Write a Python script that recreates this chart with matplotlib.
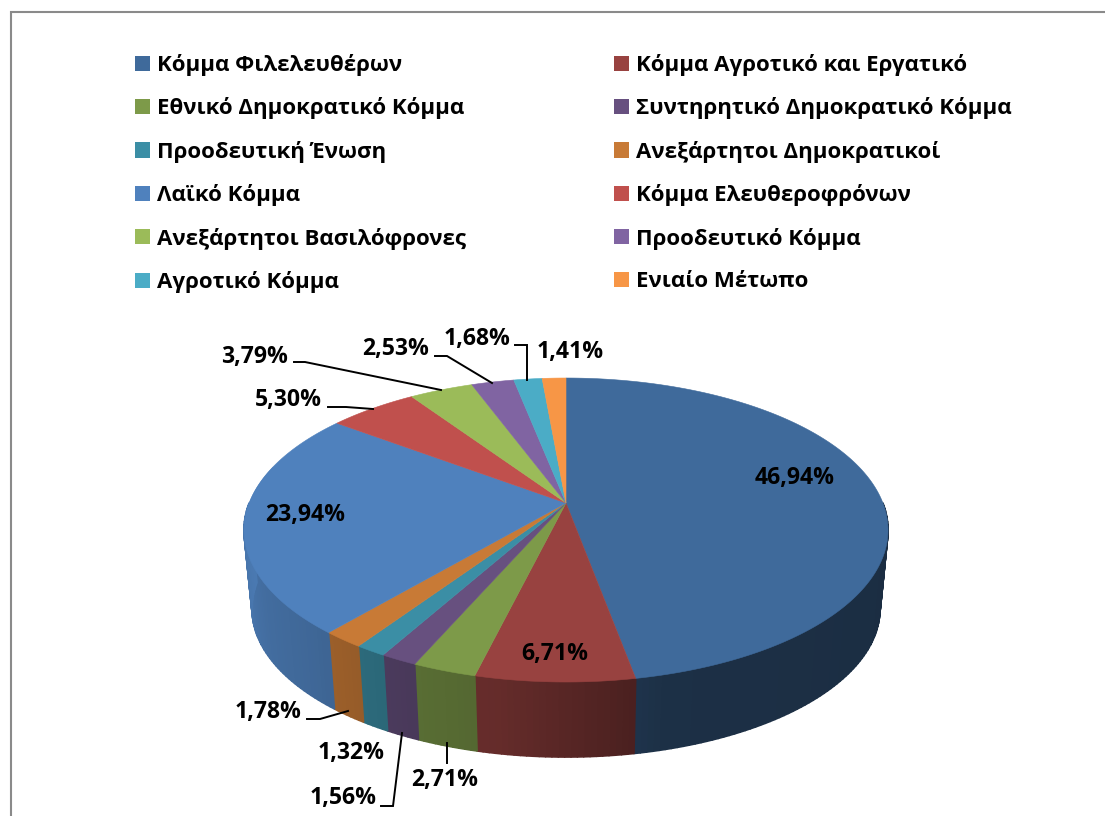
#!/usr/bin/env python3
import numpy as np
import matplotlib
matplotlib.use("Agg")
import matplotlib.pyplot as plt
from matplotlib.collections import PolyCollection
from matplotlib.patches import Patch

# ---------------------- data ----------------------
parties = ["Κόμμα Φιλελευθέρων", "Κόμμα Αγροτικό και Εργατικό",
           "Εθνικό Δημοκρατικό Κόμμα", "Συντηρητικό Δημοκρατικό Κόμμα",
           "Προοδευτική Ένωση", "Ανεξάρτητοι Δημοκρατικοί",
           "Λαϊκό Κόμμα", "Κόμμα Ελευθεροφρόνων",
           "Ανεξάρτητοι Βασιλόφρονες", "Προοδευτικό Κόμμα",
           "Αγροτικό Κόμμα", "Ενιαίο Μέτωπο"]
shares = [46.94, 6.71, 2.71, 1.56, 1.32, 1.78, 23.94, 5.30, 3.79, 2.53, 1.68, 1.41]
colors = ["#3F6A9B", "#984240", "#7D9A49", "#67507F", "#3B8EA5", "#C87A36",
          "#4F81BD", "#C0504D", "#9BBB59", "#8064A2", "#4BACC6", "#F79646"]

# ---------------------- layout (pixels) ----------------------
W, H = 1105, 816
CX = 566
APEX_TOP = 503      # where the slices meet on the top face
A, B, K = 316.9, 147.2, 0.1777   # perspective ellipse
DEPTH = 79.5
BOTTOM_SCALE = 0.975

label_pos = [(795, 478), (555, 654), (445, 780), (343, 798), (351, 753), (268, 712),
             (305, 515), (288, 400), (254, 357), (396, 349), (477, 339), (570, 352)]
leaders = [None, None,
           [(447, 743), (447, 763)],
           [(381, 806), (393, 806), (402, 733)],
           None,
           [(307, 719), (320, 719), (348, 711)],
           None,
           [(328, 407), (346, 407), (373, 409)],
           [(294, 362), (305, 362), (441, 390)],
           [(435, 356), (447, 356), (492, 383)],
           [(515, 345), (527, 345), (527, 380)],
           None]

# rim shading against angle (clockwise from the top of the pie)
shade_angle = [90, 165, 190, 210, 225, 240, 255, 270]
shade_value = [0.42, 0.45, 0.66, 0.73, 0.80, 0.84, 0.90, 0.94]


def project(theta, scale=1.0, y0=APEX_TOP):
    """Circle point at angle theta (degrees, clockwise from top) to pixels."""
    t = np.radians(theta)
    x, y = np.sin(t), np.cos(t)
    den = 1 + K * y
    return CX + scale * A * x / den, y0 - scale * B * y / den


def shaded(color, f):
    rgb = np.array(matplotlib.colors.to_rgb(color))
    return tuple(rgb * f)


fig = plt.figure(figsize=(W / 100, H / 100), dpi=100)
ax = fig.add_axes([0, 0, 1, 1])
ax.set_xlim(0, W)
ax.set_ylim(H, 0)
ax.axis("off")
plt.rcParams["font.family"] = ["Open Sans", "DejaVu Sans"]

# chart frame, the right and bottom sides are cut off in the picture
ax.plot([11, 11, W], [H, 12, 12], color="#8A8A8A", lw=1.5, solid_joinstyle="miter")

edges = np.concatenate([[0], np.cumsum(shares)]) / sum(shares) * 360

# silhouette pieces at the two sides, where the rim meets its widest point
for side, color, f in ((np.linspace(90, 115, 30), colors[0], 0.42),
                       (np.linspace(245, 285, 40), colors[6], 0.94)):
    xt, yt = project(side)
    xb, yb = project(side, BOTTOM_SCALE, APEX_TOP + DEPTH)
    ax.fill(np.r_[xt, xb[::-1]], np.r_[yt, yb[::-1]], color=shaded(color, f), lw=0, zorder=1)

# rim, only the front part can be seen
for i, color in enumerate(colors):
    a0, a1 = max(edges[i], 90), min(edges[i + 1], 270)
    if a1 <= a0:
        continue
    steps = np.linspace(a0, a1, max(int(a1 - a0), 1) + 2)
    xt, yt = project(steps)
    xb, yb = project(steps, BOTTOM_SCALE, APEX_TOP + DEPTH)
    quads, face = [], []
    for j in range(len(steps) - 1):
        quads.append([(xt[j], yt[j]), (xt[j + 1], yt[j + 1]), (xb[j + 1], yb[j + 1]), (xb[j], yb[j])])
        mid = (steps[j] + steps[j + 1]) / 2
        face.append(shaded(color, np.interp(mid, shade_angle, shade_value)))
    ax.add_collection(PolyCollection(quads, facecolors=face, edgecolors=face, linewidths=1.2, zorder=2))

# top face
for i, color in enumerate(colors):
    steps = np.linspace(edges[i], edges[i + 1], max(int(edges[i + 1] - edges[i]), 1) * 2 + 2)
    xt, yt = project(steps)
    ax.fill(np.r_[CX, xt], np.r_[APEX_TOP, yt], color=color, lw=0.4, zorder=3)

# data labels
for v, (lx, ly), line in zip(shares, label_pos, leaders):
    ax.text(lx, ly, f"{v:.2f}%".replace(".", ","), ha="center", va="center",
            fontsize=16.6, fontweight="bold", color="black", zorder=5)
    if line:
        ax.plot(*zip(*line), color="black", lw=1.4, zorder=4, solid_joinstyle="miter")

# legend: matplotlib fills column by column, so reorder
order = list(range(0, 12, 2)) + list(range(1, 12, 2))
handles = [Patch(facecolor=colors[i], edgecolor="none", label=parties[i]) for i in order]
FS = 16.0
fs_px = FS * 100 / 72
leg = ax.legend(handles=handles, ncols=2, loc="upper left",
                bbox_to_anchor=(135 / W, 1 - 54 / H), bbox_transform=ax.transAxes,
                frameon=False, prop={"size": FS, "weight": "bold"},
                borderpad=0, borderaxespad=0, handlelength=15 / fs_px, handleheight=15 / fs_px,
                handletextpad=7 / fs_px, labelspacing=(43.6 - fs_px * 1.0) / fs_px,
                columnspacing=148 / fs_px)

fig.savefig("out.png", dpi=100)
